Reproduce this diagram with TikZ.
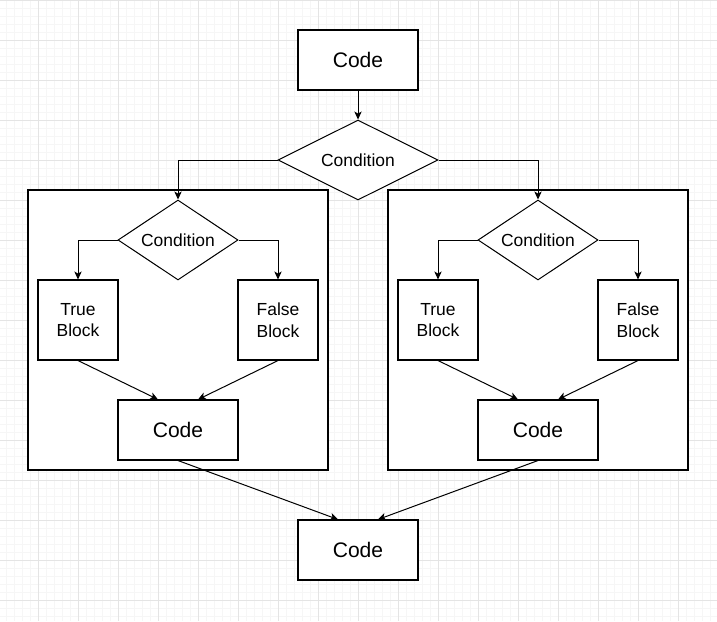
\documentclass[tikz,border=0pt]{standalone}
\usepackage{fontspec}
\setmainfont{Liberation Sans}
\usetikzlibrary{shapes.geometric,arrows.meta,calc}
\definecolor{gridminor}{RGB}{246,246,246}
\definecolor{gridmajor}{RGB}{228,228,228}
\begin{document}
\begin{tikzpicture}[x=0.75pt,y=-0.75pt,
  line width=0.8pt,
  box/.style={draw=black,fill=white,rectangle,inner sep=0pt,align=center,line width=0.8pt},
  codebox/.style={box,minimum width=90pt,minimum height=45pt,font=\fontsize{15.8}{19}\selectfont},
  blockbox/.style={box,minimum width=60pt,minimum height=60pt,font=\fontsize{13.1}{16.3}\selectfont},
  container/.style={box,minimum width=225pt,minimum height=210pt},
  decision/.style={draw=black,fill=white,diamond,shape aspect=2,inner sep=0pt,line width=0.75pt,font=\fontsize{13.1}{16}\selectfont},
  bigdec/.style={decision,minimum width=120pt,minimum height=60pt},
  smalldec/.style={decision,minimum width=90pt,minimum height=60pt},
  arr/.style={-{Stealth[length=6pt,width=5.5pt,inset=1.6pt]},line width=0.75pt}]
\useasboundingbox (0,0) rectangle (717,621);
% background grid
\fill[white] (0,0) rectangle (717,621);
\foreach \i in {0,...,89} {\draw[gridminor,line width=0.75pt] ({6.3+8*\i},0) -- ({6.3+8*\i},621);}
\foreach \i in {0,...,77} {\draw[gridminor,line width=0.75pt] (0,{8*\i}) -- (717,{8*\i});}
\foreach \i in {0,...,18} {\draw[gridmajor,line width=0.75pt] ({-1.7+40*\i},0) -- ({-1.7+40*\i},621);}
\foreach \i in {0,...,15} {\draw[gridmajor,line width=0.75pt] (0,{40*\i}) -- (717,{40*\i});}
% containers
\node[container] (contL) at (178,330) {};
\node[container] (contR) at (538,330) {};
% top
\node[codebox] (top) at (358,60) {Code};
\node[bigdec] (cond) at (358,160) {Condition};
% left group
\node[smalldec] (dL) at (178,240) {Condition};
\node[blockbox] (tL) at (78,320) {True\\Block};
\node[blockbox] (fL) at (278,320) {False\\Block};
\node[codebox] (cL) at (178,430) {Code};
% right group
\node[smalldec] (dR) at (538,240) {Condition};
\node[blockbox] (tR) at (438,320) {True\\Block};
\node[blockbox] (fR) at (638,320) {False\\Block};
\node[codebox] (cR) at (538,430) {Code};
% bottom
\node[codebox] (bot) at (358,550) {Code};
% connectors
\draw[arr] (top.south) -- (cond.north);
\draw[arr] (cond.west) -| (dL.north);
\draw[arr] (cond.east) -| (dR.north);
\draw[arr] (dL.west) -| (tL.north);
\draw[arr] (dL.east) -| (fL.north);
\draw[arr] (dR.west) -| (tR.north);
\draw[arr] (dR.east) -| (fR.north);
\draw[arr] (tL.south) -- ($(cL.north)+(-20,0)$);
\draw[arr] (fL.south) -- ($(cL.north)+(20,0)$);
\draw[arr] (tR.south) -- ($(cR.north)+(-20,0)$);
\draw[arr] (fR.south) -- ($(cR.north)+(20,0)$);
\draw[arr] (cL.south) -- ($(bot.north)+(-20,0)$);
\draw[arr] (cR.south) -- ($(bot.north)+(20,0)$);
\end{tikzpicture}
\end{document}
